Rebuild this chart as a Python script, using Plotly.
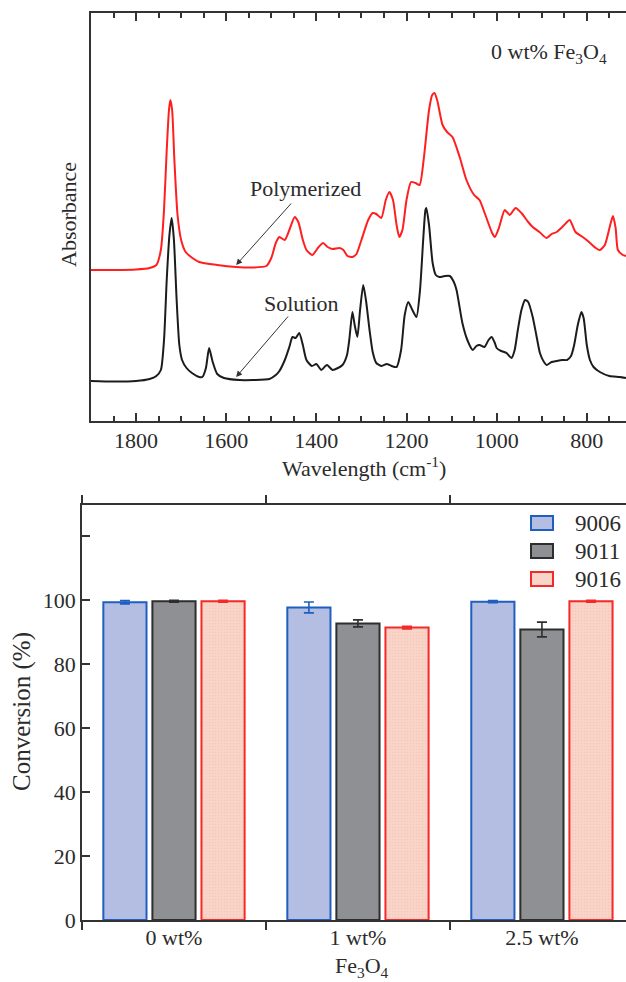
import plotly.graph_objects as go

# ---------------- FTIR spectra (top panel) ----------------
poly_wn = [1900, 1850, 1800, 1770, 1755, 1745, 1738, 1732, 1727, 1724, 1720, 1715, 1708, 1700, 1690,
           1675, 1660, 1620, 1578, 1540, 1511, 1500, 1490, 1482, 1470, 1460, 1448, 1440, 1430, 1422,
           1409, 1395, 1385, 1375, 1364, 1349, 1340, 1331, 1320, 1311, 1300, 1285, 1275, 1267, 1256,
           1246, 1238, 1230, 1222, 1216, 1209, 1200, 1190, 1180, 1171, 1162, 1150, 1143, 1138, 1132,
           1120, 1110, 1098, 1082, 1067, 1050, 1038, 1025, 1010, 1004, 995, 982, 971, 958, 945,
           930, 920, 905, 889, 878, 867, 850, 838, 825, 809, 795, 780, 771, 760, 748,
           742, 736, 731, 720, 713]
poly_abs = [1.51, 1.51, 1.515, 1.53, 1.56, 1.71, 2.11, 2.71, 3.11, 3.21, 3.11, 2.61, 2.06, 1.81, 1.69,
            1.63, 1.59, 1.56, 1.54, 1.535, 1.55, 1.63, 1.78, 1.84, 1.81, 1.91, 2.04, 1.99, 1.81, 1.71,
            1.66, 1.74, 1.78, 1.74, 1.72, 1.73, 1.71, 1.65, 1.64, 1.67, 1.81, 2.01, 2.08, 2.07, 2.03,
            2.21, 2.29, 2.21, 1.96, 1.84, 1.91, 2.21, 2.39, 2.38, 2.36, 2.61, 3.11, 3.26, 3.28, 3.21,
            2.96, 2.89, 2.84, 2.64, 2.41, 2.26, 2.21, 2.06, 1.88, 1.84, 1.93, 2.11, 2.06, 2.13, 2.08,
            1.99, 1.94, 1.89, 1.83, 1.87, 1.89, 1.96, 2.01, 1.89, 1.84, 1.79, 1.73, 1.71, 1.76, 1.96,
            2.05, 1.93, 1.71, 1.66, 1.65]

sol_wn = [1900, 1850, 1800, 1770, 1755, 1745, 1738, 1732, 1726, 1721, 1716, 1710, 1704, 1698, 1688,
          1676, 1660, 1653, 1645, 1638, 1630, 1620, 1605, 1571, 1540, 1504, 1490, 1482, 1470, 1460,
          1453, 1446, 1438, 1430, 1422, 1410, 1400, 1389, 1380, 1376, 1364, 1352, 1342, 1332, 1327,
          1320, 1315, 1309, 1303, 1296, 1290, 1282, 1275, 1267, 1255, 1244, 1233, 1222, 1212, 1204,
          1196, 1187, 1178, 1170, 1163, 1158, 1156, 1150, 1142, 1135, 1127, 1115, 1104, 1095, 1089,
          1076, 1065, 1053, 1045, 1038, 1027, 1018, 1011, 1004, 1000, 990, 978, 967, 960, 953,
          945, 937, 930, 920, 912, 904, 895, 889, 878, 867, 855, 844, 835, 828, 820,
          812, 807, 800, 793, 785, 771, 750, 727, 713]
sol_abs = [0.40, 0.395, 0.40, 0.42, 0.45, 0.51, 0.81, 1.41, 1.86, 2.03, 1.81, 1.21, 0.76, 0.61, 0.53,
           0.48, 0.44, 0.44, 0.53, 0.73, 0.59, 0.47, 0.43, 0.41, 0.41, 0.42, 0.46, 0.50, 0.61, 0.74,
           0.84, 0.83, 0.88, 0.76, 0.61, 0.55, 0.57, 0.51, 0.55, 0.56, 0.51, 0.53, 0.56, 0.66, 0.81,
           1.09, 0.96, 0.84, 1.11, 1.36, 1.21, 0.91, 0.69, 0.58, 0.55, 0.57, 0.55, 0.54, 0.71, 1.06,
           1.19, 1.11, 1.04, 1.31, 1.81, 2.11, 2.13, 1.96, 1.58, 1.46, 1.44, 1.45, 1.45, 1.39, 1.31,
           0.98, 0.81, 0.71, 0.75, 0.76, 0.74, 0.81, 0.84, 0.78, 0.73, 0.70, 0.68, 0.63, 0.71, 0.91,
           1.11, 1.21, 1.19, 1.04, 0.86, 0.68, 0.59, 0.56, 0.59, 0.60, 0.61, 0.61, 0.65, 0.76, 0.96,
           1.09, 1.03, 0.76, 0.61, 0.54, 0.49, 0.45, 0.44, 0.43]

# ---------------- Conversion bars (bottom panel) ----------------
loadings = ["0 wt%", "1 wt%", "2.5 wt%"]
series_names = ["9006", "9011", "9016"]
conv_9006 = [99.3, 97.7, 99.5]
conv_9011 = [99.6, 92.7, 90.8]
conv_9016 = [99.6, 91.4, 99.6]
err_9006 = [0.5, 1.7, 0.3]
err_9011 = [0.3, 1.1, 2.3]
err_9016 = [0.3, 0.4, 0.3]
conv_ticks = [0, 20, 40, 60, 80, 100, 120]
conv_ticklabels = ["0", "20", "40", "60", "80", "100", ""]
wn_ticks = [1800, 1600, 1400, 1200, 1000, 800]

FONT = "Liberation Serif"
TXT = "#2b2b2b"
AX = "#333333"
FS = 22

fills = ["#b4bde2", "#8e9093", "#f9d4c8"]
edges = ["#1f5fc0", "#2e2e2e", "#f42a2a"]
values = [conv_9006, conv_9011, conv_9016]
errors = [err_9006, err_9011, err_9016]

W, H = 626, 982

fig = go.Figure()
fig.add_trace(go.Scatter(x=poly_wn, y=poly_abs, mode="lines", line=dict(color="#ff1f1f", width=2, shape="spline", smoothing=0.6),
                         xaxis="x", yaxis="y", showlegend=False))
fig.add_trace(go.Scatter(x=sol_wn, y=sol_abs, mode="lines", line=dict(color="#1c1c1c", width=2, shape="spline", smoothing=0.6),
                         xaxis="x", yaxis="y", showlegend=False))

for i, name in enumerate(series_names):
    marker = dict(color=fills[i], line=dict(color=edges[i], width=2))
    if i == 2:
        marker["pattern"] = dict(shape=".", fgcolor="#f3bcad", bgcolor=fills[i], size=3, solidity=0.25)
    fig.add_trace(go.Bar(x=loadings, y=values[i], name=name, marker=marker,
                         error_y=dict(type="data", array=errors[i], color=edges[i], thickness=1.6, width=5),
                         xaxis="x2", yaxis="y2", showlegend=False))

top_l, top_t, top_b = 91, 13, 421
bot_l, bot_t, bot_b = 82, 505, 920

fig.update_layout(
    width=W, height=H,
    margin=dict(l=0, r=0, t=0, b=0, autoexpand=False),
    paper_bgcolor="white", plot_bgcolor="white",
    font=dict(family=FONT, color=TXT, size=FS),
    barmode="group", bargap=0.2, bargroupgap=0.12,
    xaxis=dict(domain=[top_l / W, 1], anchor="y", range=[1900, 713], showline=True, linecolor=AX, linewidth=1.5,
               mirror="ticks", ticks="inside", ticklen=8, tickwidth=1.5, tickcolor=AX, automargin=False,
               tickvals=wn_ticks, showgrid=False, zeroline=False, ticklabelstandoff=-1,
               tickfont=dict(size=FS, family=FONT, color=TXT),
               minor=dict(dtick=50, tick0=0, ticks="inside", ticklen=5, tickwidth=1.5, tickcolor=AX, showgrid=False)),
    yaxis=dict(domain=[1 - top_b / H, 1 - top_t / H], anchor="x", range=[0, 4.08], showline=True, linecolor=AX,
               linewidth=1.5, ticks="", showticklabels=False, showgrid=False, zeroline=False, automargin=False),
    xaxis2=dict(domain=[bot_l / W, 1], anchor="y2", range=[-0.5, 2.457], showline=True, linecolor=AX, linewidth=1.5,
                mirror="ticks", ticks="outside", tickson="boundaries", ticklen=8, tickwidth=1.5, tickcolor=AX,
                showgrid=False, zeroline=False, ticklabelstandoff=-3, automargin=False,
                tickfont=dict(size=FS, family=FONT, color=TXT)),
    yaxis2=dict(domain=[1 - bot_b / H, 1 - bot_t / H], anchor="x2", range=[0, 129.7], showline=True, linecolor=AX,
                linewidth=1.5, ticks="inside", ticklen=8, tickwidth=1.5, tickcolor=AX, tickvals=conv_ticks,
                ticktext=conv_ticklabels, showgrid=False, zeroline=False, automargin=False,
                tickfont=dict(size=FS, family=FONT, color=TXT)),
)

ann = []
def label(text, px, py, size=FS, angle=0, xanchor="center"):
    ann.append(dict(text=text, x=px / W, y=1 - py / H, xref="paper", yref="paper", textangle=angle,
                    xanchor=xanchor, yanchor="middle", showarrow=False, font=dict(size=size)))

# axis titles
label("Absorbance", 69, 215, angle=-90)
label("Wavelength (cm<sup>-1</sup>)", 364, 467)
label("Conversion (%)", 22, 712, size=25, angle=-90)
label("Fe<sub>3</sub>O<sub>4</sub>", 362, 967)
label("0 wt% Fe<sub>3</sub>O<sub>4</sub>", 549, 53, size=22)

# spectrum labels with arrows
ann.append(dict(text="Polymerized", x=1424, y=2.33, xref="x", yref="y", xanchor="center", yanchor="middle",
                showarrow=False, font=dict(size=FS)))
ann.append(dict(text="", x=1578, y=1.56, ax=1453, ay=2.19, xref="x", yref="y", axref="x", ayref="y",
                showarrow=True, arrowhead=2, arrowsize=1.2, arrowwidth=1, arrowcolor="#333"))
ann.append(dict(text="Solution", x=1433, y=1.18, xref="x", yref="y", xanchor="center", yanchor="middle",
                showarrow=False, font=dict(size=FS)))
ann.append(dict(text="", x=1578, y=0.44, ax=1460, ay=1.06, xref="x", yref="y", axref="x", ayref="y",
                showarrow=True, arrowhead=2, arrowsize=1.2, arrowwidth=1, arrowcolor="#333"))

# custom legend
leg_y = [523, 551, 579]
shapes = []
for i, name in enumerate(series_names):
    yc = leg_y[i]
    shapes.append(dict(type="rect", xref="paper", yref="paper", x0=531 / W, x1=553 / W,
                       y0=1 - (yc + 7) / H, y1=1 - (yc - 7) / H, fillcolor=fills[i],
                       line=dict(color=edges[i], width=2)))
    label(name, 573, yc, size=23, xanchor="left")

fig.update_layout(annotations=ann, shapes=shapes)
fig.write_html("out.html")
